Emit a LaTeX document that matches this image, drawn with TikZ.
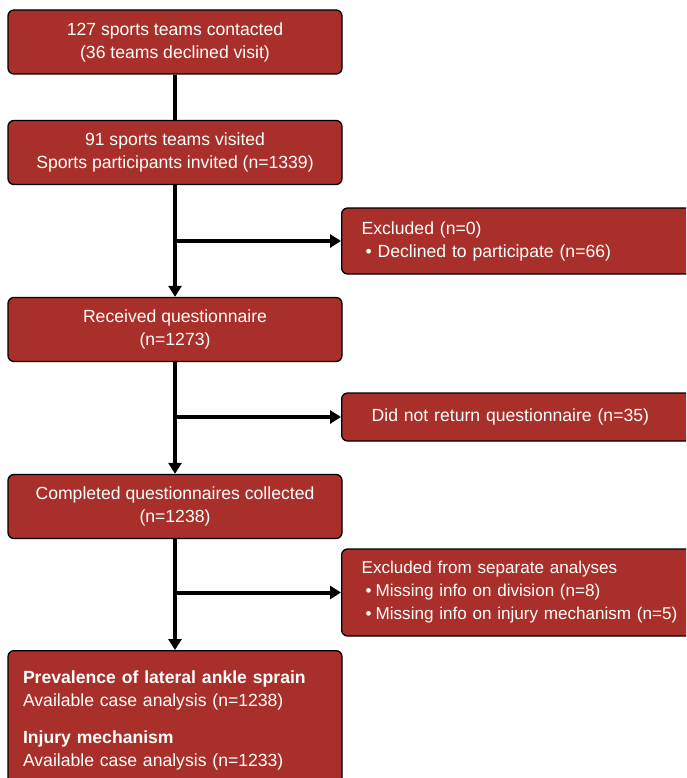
\documentclass[tikz,border=0pt]{standalone}
\usepackage{fontspec}
\setmainfont{Liberation Sans}
\usetikzlibrary{arrows.meta}
\definecolor{boxred}{RGB}{169,48,42}

\begin{document}
\begin{tikzpicture}[x=1pt,y=-1pt,
	box/.style={draw=black,line width=1.3pt,fill=boxred,rounded corners=6pt,text=white,inner sep=0pt,font=\fontsize{17.6}{23}\selectfont},
	mainbox/.style={box,minimum width=334pt,minimum height=64pt,align=center},
	sidebox/.style={box,anchor=west,inner xsep=20pt,text width=340pt,align=left},
	flow/.style={line width=4pt},
	arr/.style={flow,-{Triangle[length=11pt,width=13pt]}}]
	\clip (0,0) rectangle (686,778);
	
	\node[mainbox] (contacted) at (175,42) {127 sports teams contacted\\(36 teams declined visit)};
	\node[mainbox] (visited) at (175,152.5) {91 sports teams visited\\Sports participants invited (n=1339)};
	\node[mainbox] (received) at (175,329.5) {Received questionnaire\\(n=1273)};
	\node[mainbox] (completed) at (175,506.5) {Completed questionnaires collected\\(n=1238)};
	\node[box,anchor=north,minimum width=334pt,minimum height=140pt,text width=304pt,align=left] (analysis) at (175,650) {\textbf{Prevalence of lateral ankle sprain}\\Available case analysis (n=1238)\\[14pt]\textbf{Injury mechanism}\\Available case analysis (n=1233)};
	
	\node[sidebox,minimum height=66pt] (excluded) at (341,241) {Excluded (n=0)\\\hspace{4pt}•~Declined to participate (n=66)};
	\node[sidebox,minimum height=48pt,inner xsep=30pt] (noreturn) at (341,417) {Did not return questionnaire (n=35)};
	\node[sidebox,minimum height=87pt,font=\fontsize{17.1}{23}\selectfont] (separate) at (341,592.5) {Excluded from separate analyses\\\hspace{4pt}•\hspace{4pt}Missing info on division (n=8)\\\hspace{4pt}•\hspace{4pt}Missing info on injury mechanism (n=5)};
	
	\coordinate (split1) at (visited.south |- excluded.west);
	\coordinate (split2) at (received.south |- noreturn.west);
	\coordinate (split3) at (completed.south |- separate.west);
	
	\draw[flow] (contacted) -- (visited);
	\draw[arr] (visited) -- (received);
	\draw[arr] (received) -- (completed);
	\draw[arr] (completed) -- (analysis);
	\draw[arr] (split1) -- (excluded);
	\draw[arr] (split2) -- (noreturn);
	\draw[arr] (split3) -- (separate);
\end{tikzpicture}
\end{document}
